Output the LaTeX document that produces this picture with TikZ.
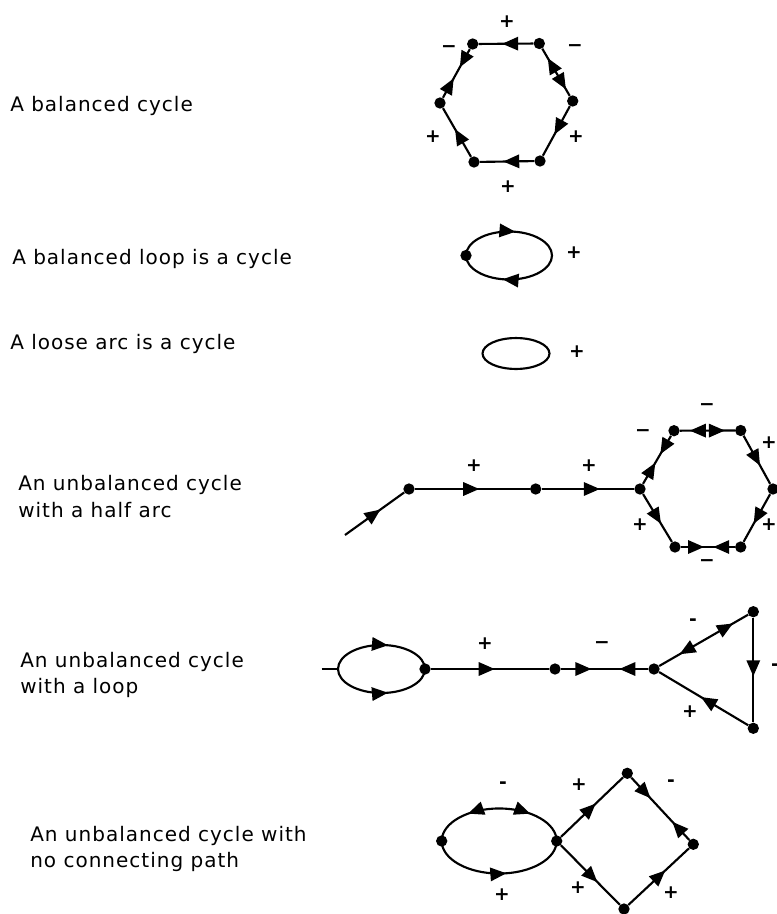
\documentclass[tikz,border=0pt]{standalone}
\usepackage{fontspec}
\setmainfont{DejaVu Sans}[LetterSpace=5]
\usetikzlibrary{arrows.meta,decorations.markings}
\tikzset{
  dot/.style={circle,fill=black,inner sep=0pt,minimum size=8.5pt},
  edge/.style={line width=1.6pt},
  fwd/.style={postaction={decorate,decoration={markings,mark=at position #1 with {\arrow{Triangle[length=12pt,width=10pt]}}}}},
  bwd/.style={postaction={decorate,decoration={markings,mark=at position #1 with {\arrowreversed{Triangle[length=12pt,width=10pt]}}}}},
  lbl/.style={anchor=base west,inner sep=0pt,font=\fontsize{15}{17}\selectfont},
  sgn/.style={inner sep=0pt,font=\fontsize{14}{15}\selectfont\bfseries}
}
\begin{document}
\begin{tikzpicture}[x=0.75pt,y=-0.75pt]
\fill[white] (0,0) rectangle (777,914);
\useasboundingbox (0,0) rectangle (777,914);

% ---------- labels ----------
\node[lbl] (t1) at (10,111) {A balanced cycle};
\node[lbl] (t2) at (12,264) {A balanced loop is a cycle};
\node[lbl] (t3) at (10,349) {A loose arc is a cycle};
\node[lbl] (t4) at (18,490) {An unbalanced cycle};
\node[lbl] (t5) at (18,517) {with a half arc};
\node[lbl] (t6) at (20,667) {An unbalanced cycle};
\node[lbl] (t7) at (20,693) {with a loop};
\node[lbl] (t8) at (30,841) {An unbalanced cycle with};
\node[lbl] (t9) at (30,867) {no connecting path};

% ---------- graph 1: balanced hexagon ----------
\node[dot] (a1) at (472.7,44) {};
\node[dot] (b1) at (539.3,43.5) {};
\node[dot] (c1) at (572.7,101) {};
\node[dot] (d1) at (540,161) {};
\node[dot] (e1) at (474,162) {};
\node[dot] (f1) at (440,103) {};
\draw[edge,fwd=0.57] (b1) -- (a1);
\draw[edge,fwd=0.37,bwd=0.6] (a1) -- (f1);
\draw[edge,bwd=0.2,fwd=0.86] (b1) -- (c1);
\draw[edge,fwd=0.57] (c1) -- (d1);
\draw[edge,fwd=0.57] (d1) -- (e1);
\draw[edge,fwd=0.57] (e1) -- (f1);
\node[sgn] (s1) at (507,22) {+};
\node[sgn] (s2) at (449,49) {−};
\node[sgn] (s3) at (575,48) {−};
\node[sgn] (s4) at (433,137) {+};
\node[sgn] (s5) at (576,137) {+};
\node[sgn] (s6) at (508,187) {+};

% ---------- graph 2: balanced loop ----------
\node[dot] (l2) at (466,255.5) {};
\draw[edge,fwd=0.28,fwd=0.78] (l2.center) arc[start angle=180,end angle=-180,x radius=32.25pt,y radius=18pt];
\node[sgn] (s7) at (574,253) {+};

% ---------- graph 3: loose arc ----------
\coordinate (la) at (516,353.5);
\draw[edge] (la) ellipse[x radius=25.1pt,y radius=11.6pt];
\node[sgn] (s8) at (577,352) {+};

% ---------- graph 4: half arc + hexagon ----------
\coordinate (h4) at (345,535);
\node[dot] (a4) at (409,489) {};
\node[dot] (b4) at (535.7,489) {};
\node[dot] (c4) at (640,489) {};
\node[dot] (p4) at (674,430.7) {};
\node[dot] (q4) at (740.7,430.5) {};
\node[dot] (r4) at (773,489) {};
\node[dot] (u4) at (740.7,547) {};
\node[dot] (v4) at (675,547) {};
\draw[edge,fwd=0.6] (h4) -- (a4);
\draw[edge,fwd=0.56] (a4) -- (b4);
\draw[edge,fwd=0.63] (b4) -- (c4);
\draw[edge,fwd=0.44,bwd=0.62] (c4) -- (p4);
\draw[edge,bwd=0.18,fwd=0.82] (p4) -- (q4);
\draw[edge,fwd=0.62] (q4) -- (r4);
\draw[edge,fwd=0.62] (r4) -- (u4);
\draw[edge,fwd=0.43,bwd=0.6] (v4) -- (u4);
\draw[edge,fwd=0.62] (c4) -- (v4);
\node[sgn] (s9) at (474,466) {+};
\node[sgn] (s10) at (589,466) {+};
\node[sgn] (s11) at (643,433) {−};
\node[sgn] (s12) at (707,407) {−};
\node[sgn] (s13) at (769,443) {+};
\node[sgn] (s14) at (769,525) {+};
\node[sgn] (s15) at (707,563) {−};
\node[sgn] (s16) at (640,525) {+};

% ---------- graph 5: loop + path + triangle ----------
\coordinate (h5) at (321.7,669);
\coordinate (e5l) at (338,669);
\node[dot] (e5r) at (425,669) {};
\node[dot] (m5) at (555,669) {};
\node[dot] (n5) at (654,669) {};
\node[dot] (t5a) at (753.3,611.7) {};
\node[dot] (t5b) at (753.3,728.3) {};
\draw[edge] (h5) -- (e5l);
\draw[edge,fwd=0.56] (e5l) arc[start angle=180,end angle=0,x radius=32.6pt,y radius=18pt];
\draw[edge,fwd=0.56] (e5l) arc[start angle=180,end angle=360,x radius=32.6pt,y radius=18pt];
\draw[edge,fwd=0.54] (e5r) -- (m5);
\draw[edge,fwd=0.35,bwd=0.67] (m5) -- (n5);
\draw[edge,bwd=0.23,fwd=0.83] (n5) -- (t5a);
\draw[edge,fwd=0.56] (t5a) -- (t5b);
\draw[edge,fwd=0.53] (t5b) -- (n5);
\node[sgn] (s17) at (485,644) {+};
\node[sgn] (s18) at (602,645) {−};
\node[sgn] (s19) at (693,622) {-};
\node[sgn] (s20) at (775,667) {-};
\node[sgn] (s21) at (690,712) {+};

% ---------- graph 6: two unbalanced cycles ----------
\node[dot] (e6l) at (441.7,841) {};
\node[dot] (e6r) at (556.7,841) {};
\node[dot] (tp6) at (627.3,773.3) {};
\node[dot] (rt6) at (693.3,844.3) {};
\node[dot] (bm6) at (624,909) {};
\draw[edge,bwd=0.28,fwd=0.72] (e6l.center) arc[start angle=180,end angle=0,x radius=43.1pt,y radius=24.4pt];
\draw[edge,fwd=0.55] (e6l.center) arc[start angle=180,end angle=360,x radius=43.1pt,y radius=24.4pt];
\draw[edge,fwd=0.56] (e6r) -- (tp6);
\draw[edge,fwd=0.33,bwd=0.71] (tp6) -- (rt6);
\draw[edge,fwd=0.62] (e6r) -- (bm6);
\draw[edge,fwd=0.61] (bm6) -- (rt6);
\node[sgn] (s22) at (503,785) {-};
\node[sgn] (s23) at (502,895) {+};
\node[sgn] (s24) at (579,785) {+};
\node[sgn] (s25) at (671,783) {-};
\node[sgn] (s26) at (578,888) {+};
\node[sgn] (s27) at (671,893) {+};
\end{tikzpicture}
\end{document}
